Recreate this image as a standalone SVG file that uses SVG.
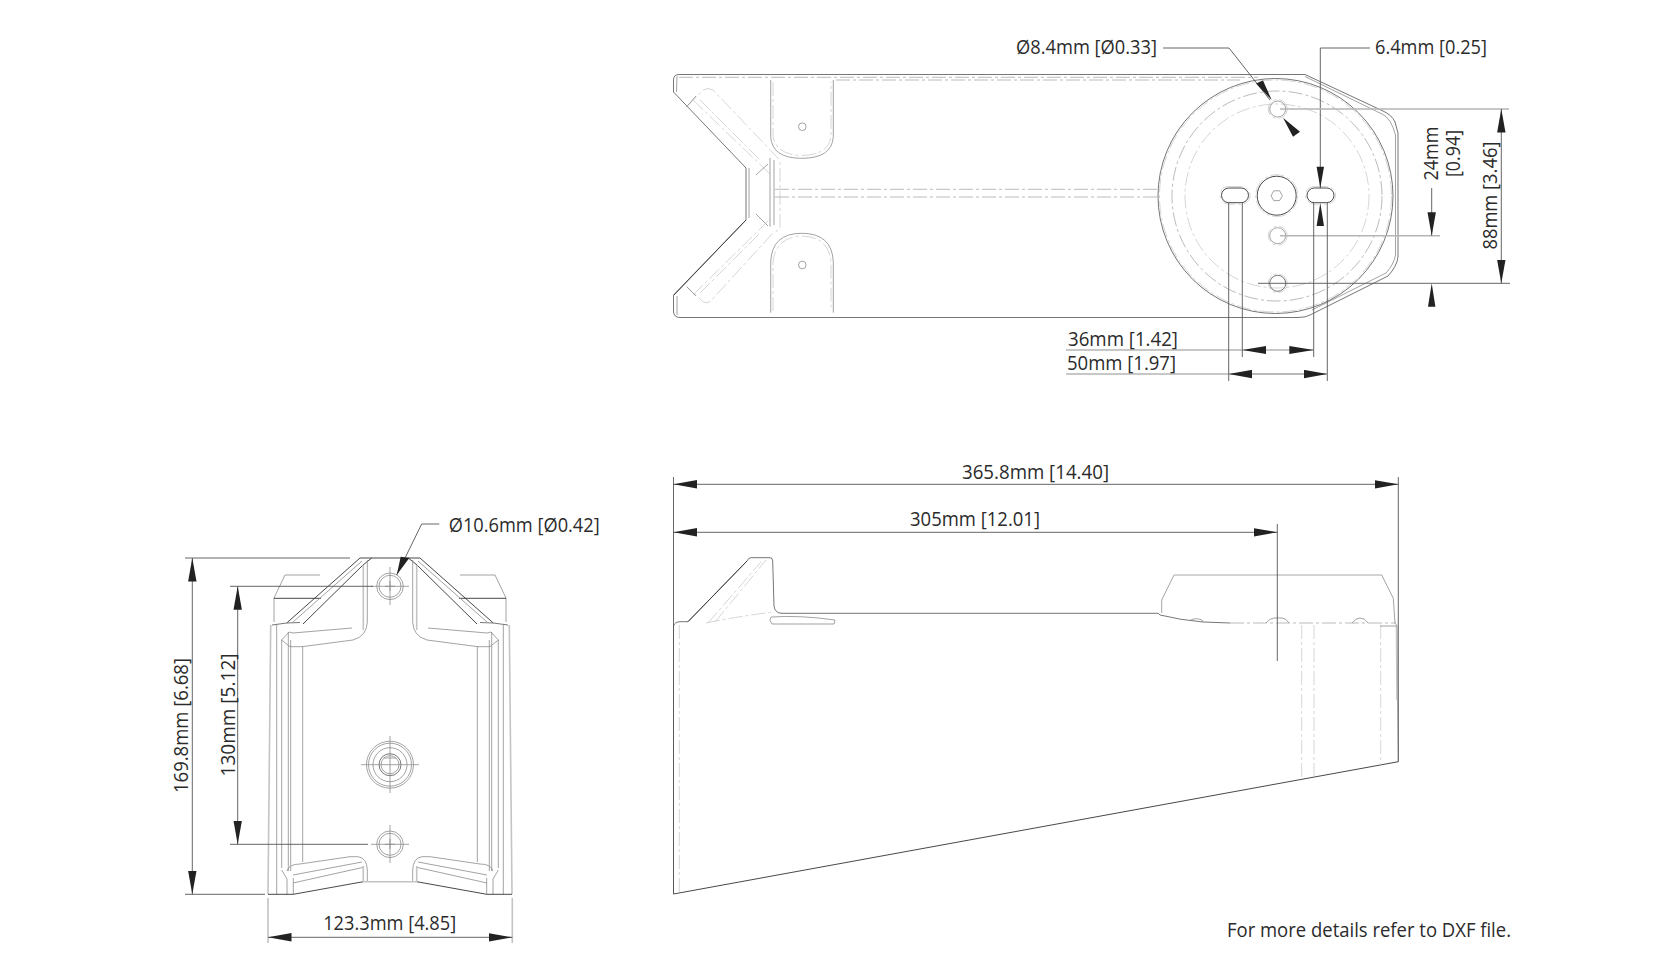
<svg xmlns="http://www.w3.org/2000/svg" width="1680" height="980" viewBox="0 0 1680 980">
<style>
text{font-family:"Open Sans","Noto Sans","Liberation Sans",sans-serif;font-size:19.4px;fill:#2b2b2b;lengthAdjust:spacingAndGlyphs}
path,line,circle,rect,polyline{fill:none}
.o{stroke:#666;stroke-width:.9}
.k{stroke:#333;stroke-width:.9}
.s{stroke:#8c8c8c;stroke-width:.8}
.g{stroke:#c4c4c4;stroke-width:1.6}
.h{stroke:#aaa;stroke-width:.8;stroke-dasharray:14 3 3 3}
.f{stroke:#ccc;stroke-width:.8;stroke-dasharray:14 3 3 3}
.d{stroke:#555;stroke-width:.9}
.dg{stroke:#b5b5b5;stroke-width:1.6}
.a{marker-start:url(#ah);marker-end:url(#ah)}
.e{marker-end:url(#ah)}
.ar{fill:#222;stroke:none}
</style>
<defs>
<marker id="ah" markerUnits="userSpaceOnUse" markerWidth="24" markerHeight="9" refX="23.5" refY="4.5" orient="auto-start-reverse" viewBox="0 0 24 9"><path class="ar" d="M0 0.3L23.5 4.5L0 8.7Z"/></marker>
</defs>

<g id="top-view">
<path class="o" d="M673.5 92V80Q673.5 74.5 679 74.5H1305L1383 111Q1392 115 1395 122L1398 133V257Q1397 266 1388 276L1310 315Q1306 317.5 1298 317.5H680Q673.5 317.5 673.5 311V295L746 220V168Z"/>
<path class="s" d="M1305 76.5L1382 114Q1391 118 1395.500 135V255Q1394 264 1386 273L1312 310"/>
<path class="s" d="M677 76L676.500 92M677 296V315"/>
<path class="k" d="M746 220L674 295"/>
<path class="s" d="M749 168V218"/>
<path class="h" d="M679 77.300H1258M836 80H1240"/>
<path class="f" d="M686.700 106.700L703 90Q708 87 713 90L776.700 156.700Q780 160 780 165V226.700Q780 230 773 233L710 301.700Q706 304 703 301.700L686.700 286.700"/>
<path class="f" d="M693 100L771 175M693 295L771 218M700 100L760 160M700 293L760 233"/>
<path class="s" d="M686.700 106.700L696 96M686.700 286.700L696 296M770 158V226.700M774 160V225M756 175L768 164M756 214L768 226"/>
<path class="s" d="M770.700 80V136.700Q772 158.300 801.700 158.300Q832 158.300 833.300 136.700V80"/>
<path class="f" d="M773 82V136Q776 155 801.700 155.500Q829 155 831 136V82M773 311V262Q776 237 801.700 236Q829 237 831 262V311"/>
<path class="s" d="M770.700 312.700V261.700Q772 233.300 801.700 233.300Q832 233.300 833.300 261.700V312.700"/>
<circle class="s" cx="802.300" cy="126.700" r="3.800"/>
<circle class="s" cx="802.300" cy="265" r="3.800"/>
<path class="h" d="M775 189.300H1158M775 197H1158"/>
<circle class="o" cx="1275.500" cy="196" r="117.500"/>
<circle class="f" cx="1275.500" cy="196" r="116"/>
<circle class="h" cx="1277" cy="196" r="105"/>
<circle class="f" cx="1277" cy="196" r="92"/>
<circle class="s" cx="1277.700" cy="109" r="8"/><circle class="f" cx="1277.700" cy="109" r="9.500"/>
<circle class="s" cx="1277.700" cy="235.700" r="8"/><circle class="f" cx="1277.700" cy="235.700" r="9.500"/>
<circle class="o" cx="1277.700" cy="283.300" r="8"/><circle class="f" cx="1277.700" cy="283.300" r="9.500"/>
<circle class="k" cx="1276.700" cy="195.700" r="19.500"/><circle class="f" cx="1276.700" cy="195.700" r="21"/>
<path class="s" d="M1271 195.700L1273.800 190.800H1279.600L1282.400 195.700L1279.600 200.600H1273.800Z"/>
<rect class="k" x="1221.500" y="188" width="27" height="14.700" rx="7.350"/>
<rect class="k" x="1307" y="188" width="27" height="14.700" rx="7.350"/>
<rect class="f" x="1220" y="186.500" width="30" height="17.700" rx="8.850"/>
<rect class="f" x="1305.500" y="186.500" width="30" height="17.700" rx="8.850"/>
</g>

<g id="end-view">
<g id="end-half">
<path class="s" d="M274 622V598L285 575H320"/>
<path class="k" d="M274 598.300H321"/>
<path class="k" d="M286.700 623L360 558H371.700"/>
<path class="k" d="M303 624L363 565L371.700 558"/>
<path class="o" d="M300 622.500L286.700 623L272 625"/>
<path class="s" d="M293 622L362 561"/>
<path class="s" d="M367.300 560V622Q367 636 353 640L302 646.700H290L281.700 640L289 632L293 633L352 628"/>
<path class="g" d="M363.300 565V630"/>
<path class="s" d="M276.700 625V894.300M281.700 640V868M288.300 632V871M290.700 640V871"/>
<path class="g" d="M270.700 625L268 894.300"/>
<path class="s" d="M302.700 646.700V862"/>
<path class="s" d="M281.700 870L287 879V894.300M293.300 878V894.300M287 871Q289 864 300 864L350 856.700H358Q367 858 367.300 870V881.700M293 875L362 862M293 883L363.300 867.300"/>
<path class="k" d="M268 894.300H293.300L363.300 881.700"/>
<path class="g" d="M363.300 881.700H390M363.300 866V881.700"/>
</g>
<use href="#end-half" transform="matrix(-1 0 0 1 780 0)"/>
<path class="k" d="M371.700 558H408.300"/>
<circle class="s" cx="390" cy="586.300" r="13.300"/><circle class="s" cx="390" cy="586.300" r="11"/>
<path class="s" d="M371 586.300H409M390 567V605M385 586.300H395M390 581V591"/>
<circle class="s" cx="390" cy="844.300" r="13.300"/><circle class="s" cx="390" cy="844.300" r="11"/>
<path class="s" d="M371 844.300H409M390 825V863M385 844.300H395M390 839V849"/>
<circle class="s" cx="390" cy="764.700" r="23.500"/><circle class="s" cx="390" cy="764.700" r="21.500"/><circle class="s" cx="390" cy="764.700" r="17"/><circle class="o" cx="390" cy="764.700" r="11"/><circle class="s" cx="390" cy="764.700" r="9"/>
<path class="s" d="M361 764.700H419M390 736V793M384 758H396"/>
</g>

<g id="side-view">
<path class="o" d="M673.500 894V626Q675 621.700 680 621.700H688L747.300 560.700Q748.500 557.700 751 557.700H770Q772.700 557.700 772.700 561L774 606Q775 613.300 782 613.300H1158.300L1160 615"/>
<path class="k" d="M688 621.700L747.300 560.700"/>
<path class="f" d="M679.300 625V894M708 623L761 562M715 622L766 560M706 623Q740 616 774 612"/>
<path class="s" d="M770 620.500L772 624H834L835 620Q800 615 771 617Z"/>
<path class="o" d="M1160 615Q1180 620 1203 622L1230 623"/>
<path class="h" d="M1230 623H1396"/>
<path class="s" d="M1161.700 613V600L1174 575"/>
<path class="g" d="M1174 575H1381.700"/>
<path class="s" d="M1381.700 575L1393.300 598.300L1395 623.300L1397 625.500L1398.300 761.700"/>
<path class="g" d="M1396.500 626L1397 700"/>
<path class="k" d="M1398.300 761.700L673.500 894"/>
<path class="f" d="M1301.700 625V777M1314 625V776M1380.700 625V765"/>
<path class="s" d="M1380 626H1397"/>
<path class="s" d="M1189 621Q1195 617 1202 620L1203 622M1266 623Q1270 618 1274 618H1282Q1286 618 1289 623M1352 623Q1356 618 1360 618Q1365 618 1368 623"/>
</g>

<g id="connectors">
<path class="d" d="M1163 48H1229L1270 100"/>
<polygon class="ar" points="1256,83.500 1263,80.500 1271.700,100"/>
<polygon class="ar" points="1283,117.700 1300,131.700 1293,136.700"/>
<path class="d" d="M1370 48H1320.300V188"/>
<polygon class="ar" points="1316.600,166.700 1324,166.700 1320.300,188"/>
<polygon class="ar" points="1316.600,226 1324,226 1320.300,203"/>
<path class="dg" d="M1280 109H1509M1280 235.700H1440M1313.700 350H1066M1327.300 374H1066"/>
<path class="d" d="M1258 283.300H1510"/>
<line class="d a" x1="1501.300" y1="109" x2="1501.300" y2="283.300"/>
<path class="d e" d="M1431.700 188V235.700"/>
<polygon class="ar" points="1428,306.700 1435.400,306.700 1431.700,283.300"/>
<path class="d" d="M1228.700 203V381M1242.300 203V357M1313.700 203V357M1327.300 203V381"/>
<polygon class="ar" points="1266,346 1266,354 1242.300,350"/>
<polygon class="ar" points="1289.300,346 1289.300,354 1313.700,350"/>
<line class="dg a" x1="1228.700" y1="374" x2="1327.300" y2="374"/>

<path class="d" d="M185 558H350M185 894.300H265"/>
<line class="d a" x1="192.300" y1="558" x2="192.300" y2="894.300"/>
<path class="d" d="M230 586.300H373M230 844.300H368"/>
<line class="d a" x1="237.700" y1="586.300" x2="237.700" y2="844.300"/>
<path class="g" d="M268 898V943M512.300 898V943"/>
<line class="d a" x1="268" y1="937.300" x2="512.300" y2="937.300"/>
<path class="d" d="M439.300 524H421.700L396.700 575"/>
<polygon class="ar" points="400.700,556.700 409.300,558 396.700,575"/>

<path class="d" d="M673.500 477V894M1398.300 477V761.700"/>
<line class="d a" x1="673.500" y1="484.300" x2="1398.300" y2="484.300"/>
<line class="d a" x1="673.500" y1="532.300" x2="1277.300" y2="532.300"/>
<path class="d" d="M1277.300 524V661"/>
</g>

<g id="labels">
<text x="1016" y="54" textLength="141" lengthAdjust="spacingAndGlyphs">Ø8.4mm [Ø0.33]</text>
<text x="1375" y="54" textLength="112" lengthAdjust="spacingAndGlyphs">6.4mm [0.25]</text>
<text transform="translate(1438 153.500) rotate(-90)" text-anchor="middle" textLength="54" lengthAdjust="spacingAndGlyphs">24mm</text>
<text transform="translate(1460 153.500) rotate(-90)" text-anchor="middle" textLength="47" lengthAdjust="spacingAndGlyphs">[0.94]</text>
<text transform="translate(1497 195.600) rotate(-90)" text-anchor="middle" textLength="108" lengthAdjust="spacingAndGlyphs">88mm [3.46]</text>
<text x="1068" y="345.500" textLength="110" lengthAdjust="spacingAndGlyphs">36mm [1.42]</text>
<text x="1067" y="369.500" textLength="109" lengthAdjust="spacingAndGlyphs">50mm [1.97]</text>
<text x="448.700" y="531.700" textLength="151" lengthAdjust="spacingAndGlyphs">Ø10.6mm [Ø0.42]</text>
<text transform="translate(188.300 725.500) rotate(-90)" text-anchor="middle" textLength="135" lengthAdjust="spacingAndGlyphs">169.8mm [6.68]</text>
<text transform="translate(235 715) rotate(-90)" text-anchor="middle" textLength="123" lengthAdjust="spacingAndGlyphs">130mm [5.12]</text>
<text x="389.700" y="930" text-anchor="middle" textLength="133" lengthAdjust="spacingAndGlyphs">123.3mm [4.85]</text>
<text x="1035.500" y="479" text-anchor="middle" textLength="147" lengthAdjust="spacingAndGlyphs">365.8mm [14.40]</text>
<text x="975" y="526" text-anchor="middle" textLength="130" lengthAdjust="spacingAndGlyphs">305mm [12.01]</text>
<text x="1227" y="937" textLength="284" lengthAdjust="spacingAndGlyphs">For more details refer to DXF file.</text>
</g>
</svg>
